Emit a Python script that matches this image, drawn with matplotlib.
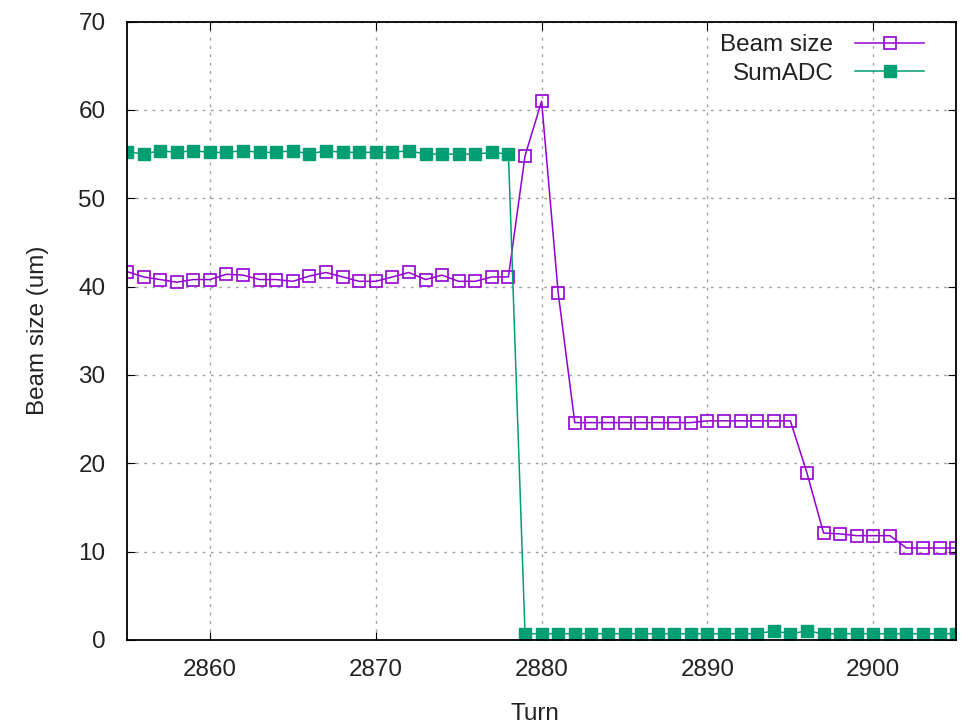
import numpy as np
import matplotlib
matplotlib.use("Agg")
import matplotlib.pyplot as plt

# Data: one point per turn
turn = np.arange(2855, 2906)

beam_size = [
    41.7, 41.1, 40.8, 40.5, 40.8, 40.8, 41.4, 41.3, 40.8, 40.8,
    40.6, 41.2, 41.6, 41.1, 40.6, 40.6, 41.1, 41.6, 40.8, 41.3,
    40.6, 40.6, 41.1, 41.1, 54.8, 61.0, 39.3, 24.6, 24.6, 24.6,
    24.6, 24.6, 24.6, 24.6, 24.6, 24.8, 24.8, 24.8, 24.8, 24.8,
    24.8, 18.9, 12.1, 12.0, 11.8, 11.8, 11.8, 10.4, 10.4, 10.4,
    10.4,
]

sum_adc = [
    55.3, 55.0, 55.4, 55.2, 55.4, 55.2, 55.2, 55.4, 55.2, 55.2,
    55.4, 55.0, 55.4, 55.2, 55.2, 55.2, 55.2, 55.4, 55.0, 55.0,
    55.0, 55.0, 55.2, 55.0, 0.7, 0.7, 0.7, 0.7, 0.7, 0.7,
    0.7, 0.7, 0.7, 0.7, 0.7, 0.7, 0.7, 0.7, 0.7, 1.0,
    0.7, 1.0, 0.7, 0.7, 0.7, 0.7, 0.7, 0.7, 0.7, 0.7,
    0.7,
]

plt.rcParams['font.family'] = ['Liberation Sans', 'DejaVu Sans']
FS = 17.5
TXT = "#222222"

fig = plt.figure(figsize=(9.62, 7.23), dpi=100)
ax = fig.add_axes([0.132, 0.115, 0.862, 0.855])

ax.plot(turn, beam_size, color="#9400d3", lw=1.1, marker="s", ms=8,
        mfc="none", mec="#9400d3", mew=1.2, label="Beam size")
ax.plot(turn, sum_adc, color="#009e73", lw=1.1, marker="s", ms=8.5,
        mfc="#009e73", mec="#009e73", label="SumADC")

ax.set_xlim(2855, 2905)
ax.set_ylim(0, 70)
ax.set_xticks([2860, 2870, 2880, 2890, 2900])
ax.set_yticks(np.arange(0, 71, 10))

# gnuplot-like dotted grid and mirrored inward ticks
ax.grid(True, color="#a0a0a0", linestyle=(0, (2, 4)), linewidth=1)
ax.tick_params(direction="in", top=True, right=True, length=6,
               labelsize=FS, colors="black", labelcolor=TXT)
ax.tick_params(axis="x", pad=13.5)
ax.tick_params(axis="y", pad=15.5)
for s in ax.spines.values():
    s.set_linewidth(1.3)

ax.set_xlabel("Turn", fontsize=FS, color=TXT)
ax.set_ylabel("Beam size (um)", fontsize=FS, color=TXT)
ax.xaxis.set_label_coords(0.492, -0.102)
ax.yaxis.set_label_coords(-0.094, 0.5)

leg = ax.legend(loc="upper right", bbox_to_anchor=(0.9614, 0.98),
                frameon=False, markerfirst=False, fontsize=FS,
                handlelength=2.84, handletextpad=0.9, borderpad=0,
                borderaxespad=0, labelspacing=0.27)
for t in leg.get_texts():
    t.set_ha("right")
    t.set_color(TXT)

fig.savefig("out.png", dpi=100)
